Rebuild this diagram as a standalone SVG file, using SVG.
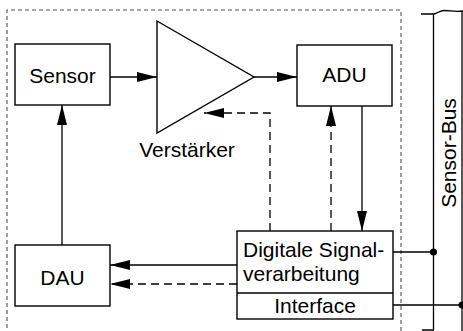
<svg xmlns="http://www.w3.org/2000/svg" width="463" height="331" viewBox="0 0 463 331">
<defs>
<style>
.box{fill:#fff;stroke:#000;stroke-width:1.4}
.ln{fill:none;stroke:#000;stroke-width:1.3}
.dl{fill:none;stroke:#000;stroke-width:1.3;stroke-dasharray:8,5}
.frame{fill:none;stroke:#555;stroke-width:1.1;stroke-dasharray:4,3}
.t{font-family:"Liberation Sans",Arial,Helvetica,sans-serif;font-size:21px;fill:#000}
</style>
<marker id="ah" viewBox="0 0 20 10" refX="20" refY="5" markerWidth="20" markerHeight="10" markerUnits="userSpaceOnUse" orient="auto">
<path d="M0,0 L20,5 L0,10 Z" fill="#000"/>
</marker>
</defs>
<rect width="463" height="331" fill="#fff"/>
<path class="frame" d="M7,335 V10 H401 V335"/>
<g id="bus">
<path class="ln" d="M421,14 H434 C438,13 440,10.5 444,10.5 C450,10.5 455,12 463,11"/>
<path class="ln" d="M433.5,14 V330 M462,11 V331 M422,330 H434"/>
<text class="t" transform="translate(455.5,153) rotate(-90)" text-anchor="middle">Sensor-Bus</text>
</g>
<g id="sensor">
<rect class="box" x="15" y="44" width="95" height="61"/>
<text class="t" x="62.5" y="83" text-anchor="middle">Sensor</text>
</g>
<g id="verstaerker">
<path class="box" d="M157,21 L254,77 L157,133 Z"/>
<text class="t" x="187" y="157" text-anchor="middle">Verstärker</text>
</g>
<g id="adu">
<rect class="box" x="297" y="45" width="95" height="61"/>
<text class="t" x="344.5" y="82" text-anchor="middle">ADU</text>
</g>
<g id="dau">
<rect class="box" x="15" y="245" width="95" height="61"/>
<text class="t" x="62.5" y="285" text-anchor="middle">DAU</text>
</g>
<g id="dsv">
<rect class="box" x="237" y="231" width="156" height="88"/>
<path class="ln" d="M237,293 H393"/>
<text class="t" x="243" y="257">Digitale Signal-</text>
<text class="t" x="243" y="281">verarbeitung</text>
<text class="t" x="315" y="313" text-anchor="middle">Interface</text>
</g>
<g id="connectors">
<path class="ln" d="M110,77 H157" marker-end="url(#ah)"/>
<path class="ln" d="M254,77 H297" marker-end="url(#ah)"/>
<path class="ln" d="M62,245 V105" marker-end="url(#ah)"/>
<path class="ln" d="M362,106 V231" marker-end="url(#ah)"/>
<path class="dl" d="M331,231 V106" marker-end="url(#ah)"/>
<path class="dl" d="M270,231 V113 H204" marker-end="url(#ah)"/>
<path class="ln" d="M237,265 H110" marker-end="url(#ah)"/>
<path class="dl" d="M237,284 H110" marker-end="url(#ah)"/>
<path class="ln" d="M393,252 H433.5 M393,305 H462"/>
<circle cx="433.5" cy="252" r="3.5" fill="#000"/>
<circle cx="462" cy="305" r="3.5" fill="#000"/>
</g>
</svg>
